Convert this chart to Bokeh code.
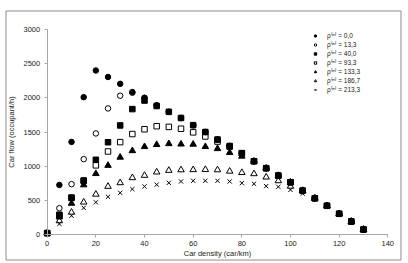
from bokeh.plotting import figure
from bokeh.models import Range1d, Legend, LegendItem, FixedTicker
from bokeh.embed import file_html
from bokeh.resources import INLINE

density = [0, 5, 10, 15, 20, 25, 30, 35, 40, 45, 50, 55, 60, 65, 70, 75, 80, 85, 90, 95, 100, 105, 110, 115, 120, 125, 130]

flow_0_0 = [20, 725, 1355, 2010, 2400, 2305, 2205, 2085, 2000, 1890, 1795, 1705, 1600, 1500, 1390, 1295, 1190, 1072, 970, 862, 765, 642, 530, 420, 303, 190, 73]
flow_13_3 = [20, 385, 737, 1103, 1479, 1845, 2031, 2075, 2000, 1890, 1795, 1705, 1600, 1500, 1390, 1295, 1190, 1072, 970, 862, 765, 642, 530, 420, 303, 190, 73]
flow_40_0 = [20, 290, 540, 790, 1093, 1350, 1596, 1835, 1960, 1880, 1795, 1705, 1600, 1500, 1390, 1295, 1190, 1072, 970, 862, 765, 642, 530, 420, 303, 190, 73]
flow_93_3 = [20, 280, 535, 785, 1012, 1215, 1352, 1470, 1540, 1585, 1575, 1548, 1495, 1435, 1360, 1285, 1190, 1072, 970, 862, 765, 642, 530, 420, 303, 190, 73]
flow_133_3 = [20, 255, 455, 725, 890, 1010, 1130, 1225, 1285, 1315, 1328, 1322, 1320, 1285, 1255, 1198, 1145, 1072, 970, 862, 765, 642, 530, 420, 303, 190, 73]
flow_186_7 = [20, 200, 325, 473, 588, 703, 756, 830, 864, 913, 937, 945, 947, 950, 945, 925, 905, 888, 839, 785, 705, 642, 530, 420, 303, 190, 73]
flow_213_3 = [20, 155, 275, 390, 471, 552, 610, 664, 703, 730, 756, 776, 786, 786, 786, 776, 752, 742, 708, 698, 654, 597, 530, 420, 303, 190, 73]

series_labels = ["ρ⁽ᵐ⁾ = 0,0", "ρ⁽ᵐ⁾ = 13,3", "ρ⁽ᵐ⁾ = 40,0", "ρ⁽ᵐ⁾ = 93,3",
                 "ρ⁽ᵐ⁾ = 133,3", "ρ⁽ᵐ⁾ = 186,7", "ρ⁽ᵐ⁾ = 213,3"]
x_ticks = [0, 20, 40, 60, 80, 100, 120, 140]
y_ticks = [0, 500, 1000, 1500, 2000, 2500, 3000]

FONT = "Liberation Sans"
AXIS_GRAY = "#a6a6a6"

# The frame spans almost the whole canvas; the axes are pinned inside it at
# x=0 / y=0 (fixed_location); an unfilled quad draws the chart border.
W, H = 408, 263
FRAME_L, FRAME_T, FRAME_R, FRAME_B = 2, 6, 405, 262
BOX_L, BOX_T, BOX_R, BOX_B = 5.5, 10.5, 400.5, 259.5
X0_PX, X140_PX = 46.7, 387.3
Y0_PX, Y3000_PX = 234.0, 29.0
kx = (X140_PX - X0_PX) / 140.0
ky = (Y0_PX - Y3000_PX) / 3000.0


def px_to_x(px):
    return (px - X0_PX) / kx


def px_to_y(py):
    return (Y0_PX - py) / ky


p = figure(width=W, height=H, output_backend="svg", toolbar_location=None,
           x_range=Range1d(px_to_x(FRAME_L), px_to_x(FRAME_R)),
           y_range=Range1d(px_to_y(FRAME_B), px_to_y(FRAME_T)),
           min_border_left=FRAME_L, min_border_right=W - FRAME_R,
           min_border_top=FRAME_T, min_border_bottom=H - FRAME_B)
p.outline_line_color = None
p.grid.visible = False
p.background_fill_color = "white"
p.border_fill_color = "white"

p.quad(left=px_to_x(BOX_L), right=px_to_x(BOX_R),
       bottom=px_to_y(BOX_B), top=px_to_y(BOX_T),
       fill_alpha=0, line_color="#8c8c8c", line_width=1)

for ax in (p.xaxis[0], p.yaxis[0]):
    ax.fixed_location = 0
    ax.axis_line_color = AXIS_GRAY
    ax.major_tick_line_color = AXIS_GRAY
    ax.minor_tick_line_color = None
    ax.major_tick_in = 0
    ax.major_tick_out = 3
    ax.major_label_text_font = FONT
    ax.major_label_text_font_size = "7.5px"
    ax.major_label_text_color = "#222222"
    ax.axis_label_text_font = FONT
    ax.axis_label_text_font_size = "7.5px"
    ax.axis_label_text_font_style = "normal"
    ax.axis_label_text_color = "#222222"

p.xaxis.bounds = (0, 140)
p.yaxis.bounds = (0, 3000)
p.xaxis.ticker = FixedTicker(ticks=x_ticks)
p.yaxis.ticker = FixedTicker(ticks=y_ticks)
p.xaxis.axis_label = "Car density (car/km)"
p.yaxis.axis_label = "Car flow (occupant/h)"
p.xaxis.major_label_standoff = 3
p.xaxis.axis_label_standoff = 0
p.yaxis.major_label_standoff = 4
p.yaxis.axis_label_standoff = 5

specs = [
    (flow_0_0, "circle", True, 5.5),
    (flow_13_3, "circle", False, 5.5),
    (flow_40_0, "square", True, 5.5),
    (flow_93_3, "square", False, 5.5),
    (flow_133_3, "triangle", True, 6.5),
    (flow_186_7, "triangle", False, 6.5),
    (flow_213_3, "x", False, 6),
]

items = []
for (vals, marker, filled, size), lab in zip(specs, series_labels):
    r = p.scatter(density, vals, marker=marker, size=size,
                  line_color="black", line_width=1,
                  fill_color="black", fill_alpha=1.0 if filled else 0.0)
    items.append(LegendItem(label=lab, renderers=[r]))

# legend position relative to the frame's bottom-left corner
legend = Legend(items=items, location=(310, 168), orientation="vertical",
                label_text_font=FONT, label_text_font_size="6.5px",
                label_text_color="#222222",
                glyph_width=6, glyph_height=7, label_height=7, label_standoff=9,
                spacing=0, padding=0, margin=0,
                background_fill_alpha=0, border_line_color=None)
p.add_layout(legend, "center")

open("out.html", "w").write(file_html(p, INLINE))
